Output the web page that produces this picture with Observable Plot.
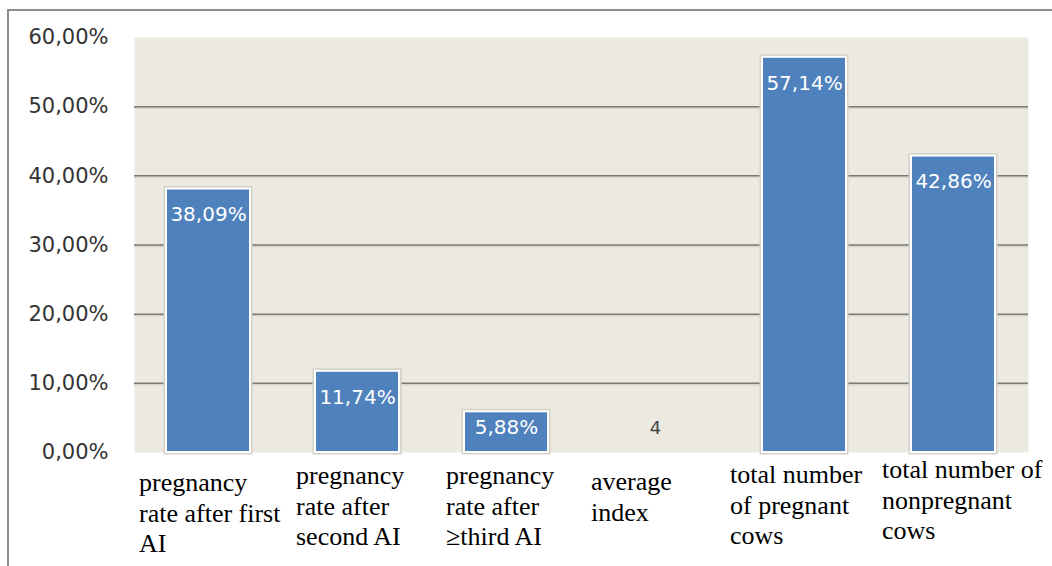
<!DOCTYPE html>
<html>
<head>
<meta charset="utf-8">
<script src="https://cdn.jsdelivr.net/npm/d3@7"></script>
<script src="https://cdn.jsdelivr.net/npm/@observablehq/plot@0.6"></script>
<style>
  html, body { margin: 0; padding: 0; background: #fff; width: 1052px; height: 566px; overflow: hidden; }
  #wrap { position: relative; width: 1052px; height: 566px; }
  #frame { position: absolute; left: 7px; top: 9px; right: 0; bottom: -4px; border-left: 2px solid #8c8c8c; border-top: 2px solid #8c8c8c; }
  #chart { position: absolute; left: 0; top: 0; }
</style>
</head>
<body>
<div id="wrap"><div id="frame"></div><div id="chart"></div></div>
<script>
const categories = [
  "pregnancy\nrate after first\nAI",
  "pregnancy\nrate after\nsecond AI",
  "pregnancy\nrate after\n≥third AI",
  "average\nindex",
  "total number\nof pregnant\ncows",
  "total number of\nnonpregnant\ncows"
];
const values = [38.09, 11.74, 5.88, 0, 57.14, 42.86];
const valueLabels = ["38,09%", "11,74%", "5,88%", "4", "57,14%", "42,86%"];
const yTicks = [0, 10, 20, 30, 40, 50, 60];
const gridLines = [10, 20, 30, 40, 50];

// layout-only tweaks for the hand-placed category labels (dx, dy in px)
const labelLayout = [[5, 17], [13, 10], [14, 10], [10, 16], [0, 9], [3, 4]];

const data = categories.map((c, i) => ({cat: c, value: values[i], label: valueLabels[i], idx: i}));

const fmt = d => d3.format(".2f")(d).replace(".", ",") + "%";

const labelMarks = data.map((d, i) => Plot.text([d], {
  x: "cat", y: 0,
  text: "cat",
  textAnchor: "start",
  lineAnchor: "top",
  lineHeight: 1.17,
  dx: -74.5 + labelLayout[i][0],
  dy: labelLayout[i][1],
  fontFamily: "Liberation Serif, Times New Roman, serif",
  fontSize: 26,
  fill: "#000"
}));

const chart = Plot.plot({
  width: 1052,
  height: 566,
  marginLeft: 134,
  marginRight: 24,
  marginTop: 37,
  marginBottom: 114,
  style: {background: "transparent", overflow: "visible"},
  x: {type: "band", domain: categories, paddingInner: 0.436, paddingOuter: 0.218, axis: null},
  y: {domain: [0, 60], ticks: yTicks, tickFormat: fmt, label: null},
  marks: [
    Plot.frame({fill: "#ECEAE0", stroke: null}),
    Plot.ruleY(gridLines, {stroke: "#d6d4cb", strokeWidth: 1.5, dy: 1.5}),
    Plot.ruleY(gridLines, {stroke: "#7a7a7a", strokeWidth: 1.5}),
    Plot.axisY({ticks: yTicks, tickFormat: fmt, tickSize: 0, tickPadding: 26, fontSize: 21, fontFamily: "DejaVu Sans, sans-serif", fill: "#333", label: null}),
    Plot.barY(data.filter(d => d.value > 0), {x: "cat", y: "value", fill: "#4F81BD", stroke: "#d3d1c8", strokeWidth: 5}),
    Plot.barY(data.filter(d => d.value > 0), {x: "cat", y: "value", fill: "#4F81BD", stroke: "#ffffff", strokeWidth: 2}),
    Plot.text(data.filter(d => d.value > 10), {x: "cat", y: "value", text: "label", dy: 26, fill: "#fff", fontSize: 20, fontFamily: "DejaVu Sans, sans-serif", textLength: 84}),
    Plot.text(data.filter(d => d.value > 0 && d.value <= 10), {x: "cat", y: "value", text: "label", dy: 16, fill: "#fff", fontSize: 20, fontFamily: "DejaVu Sans, sans-serif"}),
    Plot.text(data.filter(d => d.value === 0), {x: "cat", y: "value", text: "label", dy: -24, fill: "#444", fontSize: 18, fontFamily: "DejaVu Sans, sans-serif"}),
    ...labelMarks
  ]
});
document.getElementById("chart").appendChild(chart);
</script>
</body>
</html>
